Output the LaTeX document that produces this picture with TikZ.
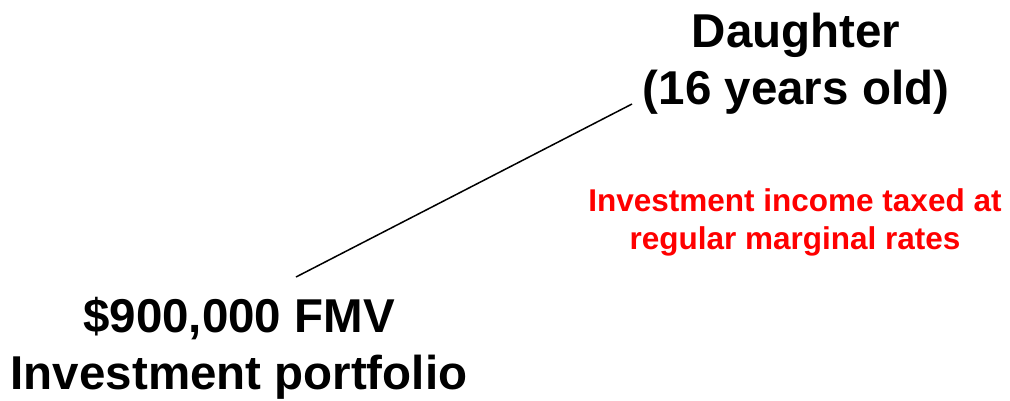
\documentclass[tikz,border=0pt]{standalone}
\usepackage{fontspec}
\setmainfont{Liberation Sans}
\begin{document}
\begin{tikzpicture}[x=1pt,y=-1pt,
  big/.style={font=\fontsize{47.5}{57}\selectfont\bfseries,align=center,inner sep=0pt},
  note/.style={font=\fontsize{31.5}{38}\selectfont\bfseries,align=center,inner sep=0pt,text=red}]
\useasboundingbox (0,0) rectangle (1010,400);
\node[big] (daughter) at (796,64) {Daughter\\(16 years old)};
\node[big] (portfolio) at (239,348) {\$900,000 FMV\\Investment portfolio};
\node[note] (tax) at (795,222) {Investment income taxed at\\regular marginal rates};
\coordinate (a) at (296,277);
\coordinate (b) at (632,104);
\draw[line width=1.5pt] (a) -- (b);
\end{tikzpicture}
\end{document}
